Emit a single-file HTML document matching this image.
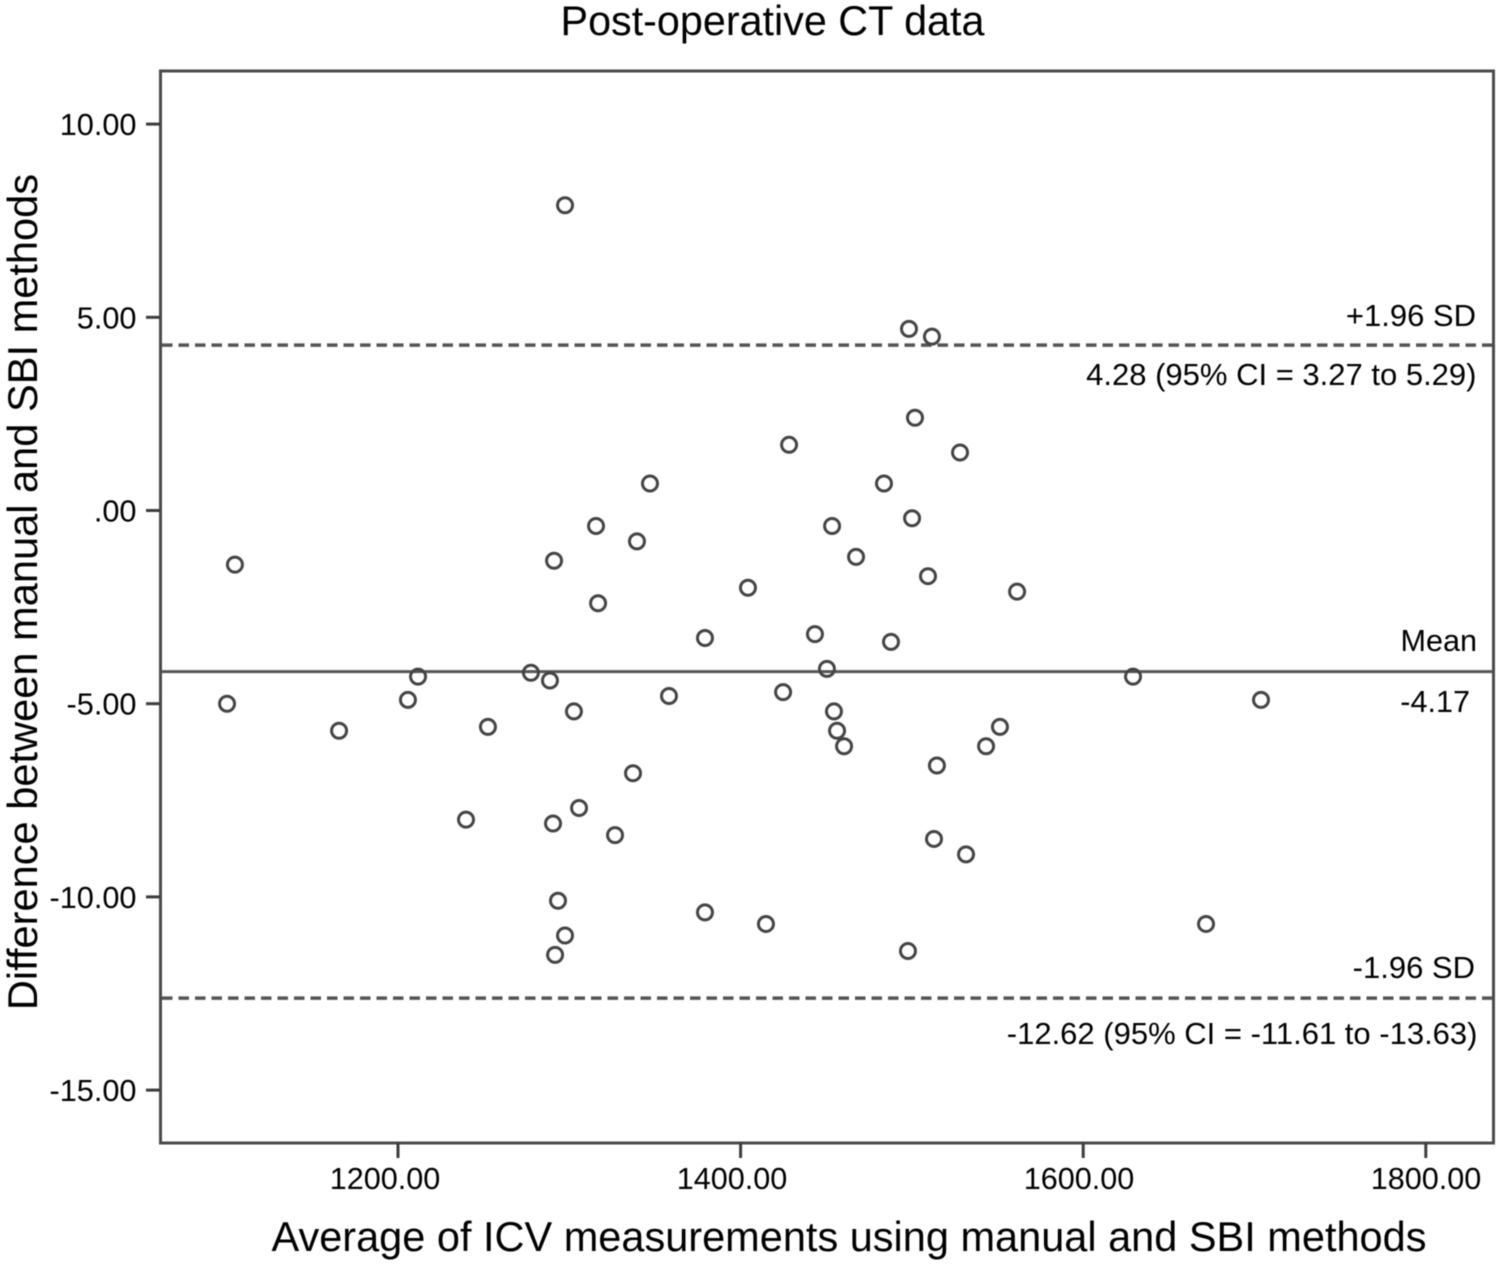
<!DOCTYPE html>
<html lang="en">
<head>
<meta charset="utf-8">
<title>Post-operative CT data</title>
<style>
html,body{margin:0;padding:0;background:#fff;}
svg{display:block;filter:blur(0.45px);}
text{font-family:"Liberation Sans",Arial,sans-serif;fill:#000;}
</style>
</head>
<body>
<svg id="chart" xmlns="http://www.w3.org/2000/svg" width="1500" height="1271" viewBox="0 0 1500 1271">
<rect width="1500" height="1271" fill="#fff"/>
<text x="772.5" y="35" font-size="41.3" text-anchor="middle">Post-operative CT data</text>
<text x="849" y="1251" font-size="41.5" text-anchor="middle">Average of ICV measurements using manual and SBI methods</text>
<text transform="translate(37,592) rotate(-90)" font-size="41.6" text-anchor="middle">Difference between manual and SBI methods</text>
<rect x="160.5" y="71" width="1333" height="1072" fill="none" stroke="#4a4a4a" stroke-width="3"/>
<g id="y-axis"></g>
<g id="x-axis"></g>
<g id="ref-lines"></g>
<g id="points"></g>
<text x="1476" y="326" font-size="31" text-anchor="end">+1.96 SD</text>
<text x="1476.5" y="385" font-size="31" text-anchor="end">4.28 (95% CI = 3.27 to 5.29)</text>
<text x="1477" y="651" font-size="30.6" text-anchor="end">Mean</text>
<text x="1470" y="712" font-size="30.6" text-anchor="end">-4.17</text>
<text x="1475" y="978" font-size="31" text-anchor="end">-1.96 SD</text>
<text x="1477.5" y="1044" font-size="31" text-anchor="end">-12.62 (95% CI = -11.61 to -13.63)</text>
</svg>
<script>
const xTicks = [1200, 1400, 1600, 1800];
const xTickLabels = ["1200.00", "1400.00", "1600.00", "1800.00"];
const yTicks = [10, 5, 0, -5, -10, -15];
const yTickLabels = ["10.00", "5.00", ".00", "-5.00", "-10.00", "-15.00"];
const meanDifference = -4.17;
const upperLimit = 4.28;
const lowerLimit = -12.62;
const averages = [1297.5,1498.3,1511.7,1501.8,1428.3,1528.1,1347.1,1483.7,1500.1,1315.6,1453.4,1339.5,1291.1,1467.4,1104.8,1509.4,1404.3,1561.4,1316.8,1379.2,1443.4,1487.8,1450.4,1277.6,1211.7,1629.1,1288.7,1358.2,1424.8,1205.8,1703.8,1100.2,1302.7,1454.5,1252.5,1551.4,1165.6,1456.3,1460.4,1543.3,1514.6,1337.2,1305.7,1239.7,1290.5,1326.7,1512.9,1531.6,1293.4,1379.2,1414.8,1671.7,1297.5,1291.7,1497.7];
const differences = [7.9,4.7,4.5,2.4,1.7,1.5,0.7,0.7,-0.2,-0.4,-0.4,-0.8,-1.3,-1.2,-1.4,-1.7,-2.0,-2.1,-2.4,-3.3,-3.2,-3.4,-4.1,-4.2,-4.3,-4.3,-4.4,-4.8,-4.7,-4.9,-4.9,-5.0,-5.2,-5.2,-5.6,-5.6,-5.7,-5.7,-6.1,-6.1,-6.6,-6.8,-7.7,-8.0,-8.1,-8.4,-8.5,-8.9,-10.1,-10.4,-10.7,-10.7,-11.0,-11.5,-11.4];

const NS = "http://www.w3.org/2000/svg";
function xScale(v){ return 398 + (v - 1200) * 1.713; }
function yScale(v){ return 510.5 - v * 38.64; }
function xLabelPos(v){ return 385 + (v - 1200) * 1.735; }
function make(tag, attrs, parent){
  const el = document.createElementNS(NS, tag);
  for (const k in attrs) el.setAttribute(k, attrs[k]);
  parent.appendChild(el);
  return el;
}
const yAxis = document.getElementById("y-axis");
yTicks.forEach(function(t, i){
  const y = yScale(t);
  const tick = make("line", {x1:146, x2:160, y1:y, y2:y, stroke:"#3c3c3c", "stroke-width":3}, yAxis);
  
  
  const label = make("text", {x:136.5, y:y + 11, "font-size":30.7, "text-anchor":"end"}, yAxis);
  
  
  label.textContent = yTickLabels[i];
});
const xAxis = document.getElementById("x-axis");
xTicks.forEach(function(t, i){
  const x = xScale(t);
  const tick = make("line", {x1:x, x2:x, y1:1143, y2:1158, stroke:"#3c3c3c", "stroke-width":3}, xAxis);
  
  
  const label = make("text", {x:xLabelPos(t), y:1189, "font-size":30.6, "text-anchor":"middle"}, xAxis);
  
  
  label.textContent = xTickLabels[i];
});
const refs = document.getElementById("ref-lines");
const upperLine = make("line", {x1:162, x2:1493, y1:yScale(upperLimit), y2:yScale(upperLimit), stroke:"#555", "stroke-width":3.5, "stroke-dasharray":"10.5 6"}, refs);


const meanLine = make("line", {x1:162, x2:1493, y1:yScale(meanDifference), y2:yScale(meanDifference), stroke:"#555", "stroke-width":3}, refs);


const lowerLine = make("line", {x1:162, x2:1493, y1:yScale(lowerLimit), y2:yScale(lowerLimit), stroke:"#555", "stroke-width":3.5, "stroke-dasharray":"10.5 6"}, refs);


const pts = document.getElementById("points");
averages.forEach(function(a, i){
  const c = make("circle", {cx:xScale(a), cy:yScale(differences[i]), r:7.5, fill:"none", stroke:"#444", "stroke-width":3}, pts);
  
  
});
</script>
</body>
</html>
